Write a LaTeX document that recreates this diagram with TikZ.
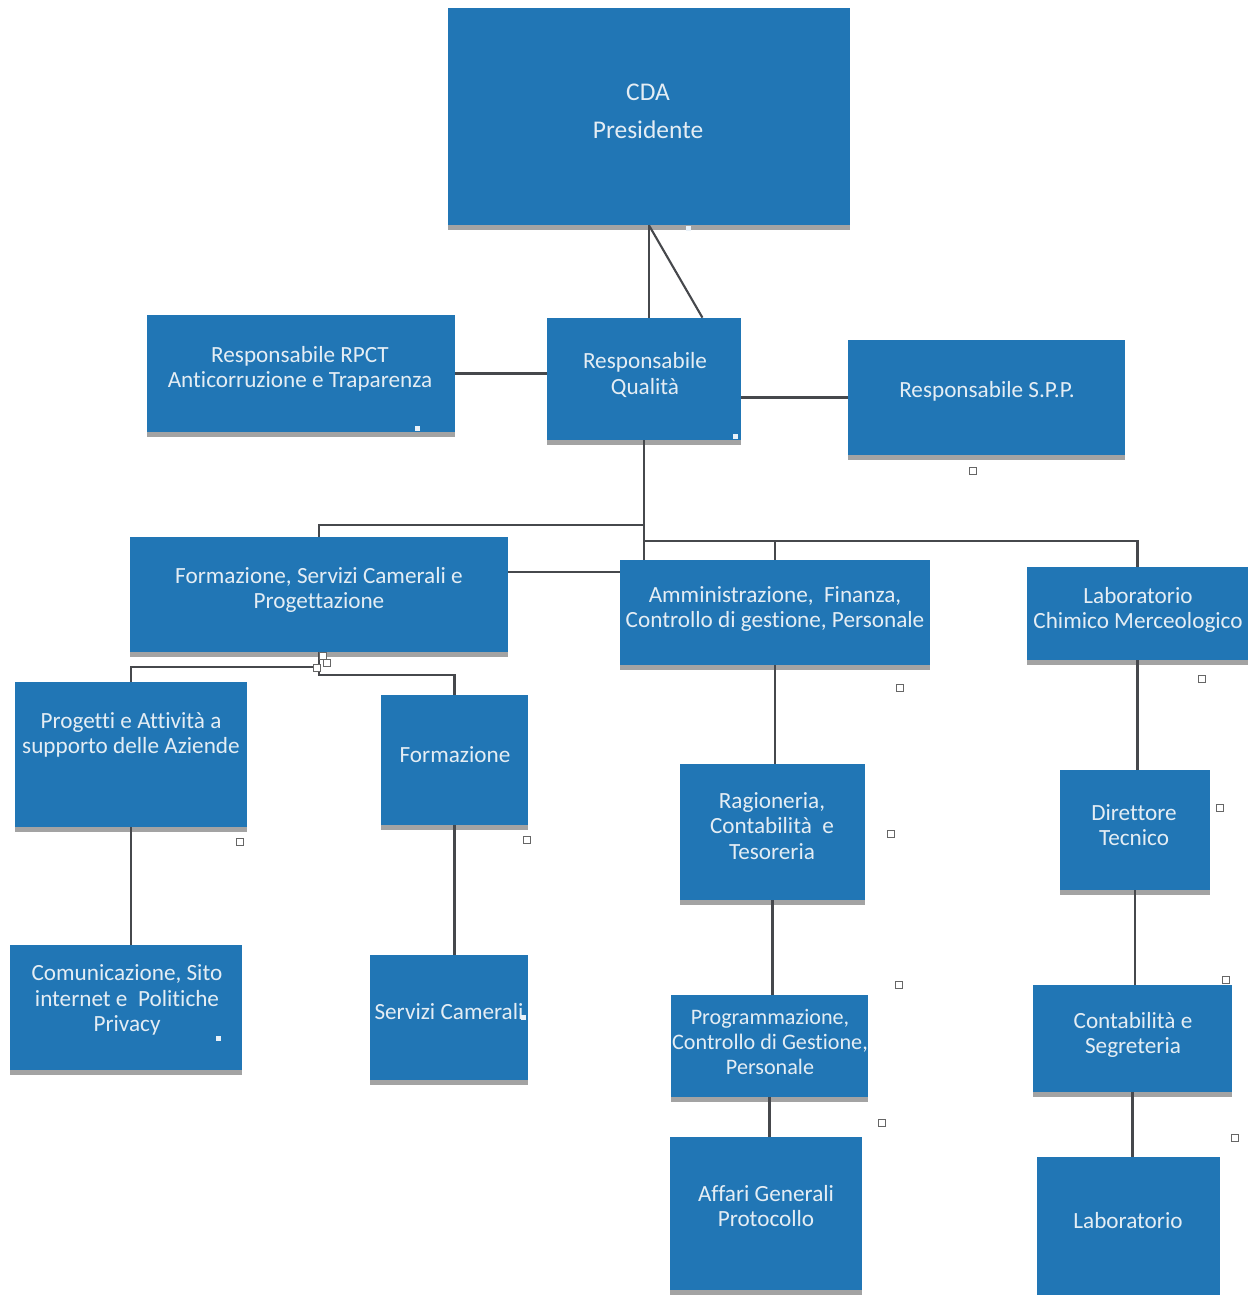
\documentclass[tikz,border=0pt]{standalone}
\usepackage{fontspec}
\setmainfont{Carlito}[Ligatures=NoCommon]
\usetikzlibrary{fit,calc,shadows}
\definecolor{boxblue}{RGB}{33,118,181}
\definecolor{boxtext}{RGB}{228,237,244}
\definecolor{linegray}{RGB}{70,72,76}
\begin{document}
\begin{tikzpicture}[x=0.2mm,y=-0.2mm,
  box/.style={fill=boxblue, draw=none, inner sep=0pt,
    drop shadow={shadow xshift=0mm, shadow yshift=-1mm, fill=black!45, opacity=0.8}},
  txt/.style={text=boxtext, align=center, inner sep=0pt,
    font=\fontsize{13.2pt}{14.3pt}\selectfont},
  smalltxt/.style={txt, font=\fontsize{12.6pt}{14.3pt}\selectfont},
  bigtxt/.style={txt, font=\fontsize{14.5pt}{17pt}\selectfont},
  conn/.style={draw=linegray, line width=1.2pt},
  handle/.style={draw=black!60, fill=white, line width=0.6pt},
  dot/.style={fill=white!90!boxblue, draw=none}]
\useasboundingbox (0,0) rectangle (1251,1295);
\fill[white] (0,0) rectangle (1251,1295);

% boxes
\node[box, fit={(448,8) (850,225)}] (cda) {};
\node[box, fit={(147,315) (455,432)}] (rpct) {};
\node[box, fit={(547,318) (741,440)}] (qual) {};
\node[box, fit={(848,340) (1125,455)}] (spp) {};
\node[box, fit={(130,537) (508,652)}] (form) {};
\node[box, fit={(620,560) (930,665)}] (amm) {};
\node[box, fit={(1027,567) (1248,660)}] (lab) {};
\node[box, fit={(15,682) (247,827)}] (prog) {};
\node[box, fit={(381,695) (528,825)}] (fsub) {};
\node[box, fit={(680,764) (865,900)}] (rag) {};
\node[box, fit={(1060,770) (1210,890)}] (dir) {};
\node[box, fit={(10,945) (242,1070)}] (com) {};
\node[box, fit={(370,955) (528,1080)}] (serv) {};
\node[box, fit={(671,995) (868,1097)}] (progr) {};
\node[box, fit={(1033,985) (1232,1092)}] (cont) {};
\node[box, fit={(670,1137) (862,1290)}] (aff) {};
\node[box, fit={(1037,1157) (1220,1295)}] (labo) {};

% texts
\node[bigtxt] (cda-t) at (648,111) {CDA\\[4.5pt]Presidente};
\node[txt] (rpct-t) at (300,369) {Responsabile RPCT\\Anticorruzione e Traparenza};
\node[txt] (qual-t) at (645,375) {Responsabile\\Qualità};
\node[txt] (spp-t) at (987,391) {Responsabile S.P.P.};
\node[txt] (form-t) at (319,590) {Formazione, Servizi Camerali e\\Progettazione};
\node[txt] (amm-t) at (775,609) {Amministrazione,\ \ Finanza,\\Controllo di gestione, Personale};
\node[txt] (lab-t) at (1138,610) {Laboratorio\\Chimico Merceologico};
\node[txt] (prog-t) at (131,735) {Progetti e Attività a\\supporto delle Aziende};
\node[txt] (fsub-t) at (455,755) {Formazione};
\node[txt] (rag-t) at (772,826) {Ragioneria,\\Contabilità\ \ e\\Tesoreria};
\node[txt] (dir-t) at (1134,825) {Direttore\\Tecnico};
\node[txt] (com-t) at (127,1000) {Comunicazione, Sito\\internet e\ \ Politiche\\Privacy};
\node[txt] (serv-t) at (449,1012) {Servizi Camerali};
\node[smalltxt] (progr-t) at (770,1042) {Programmazione,\\Controllo di Gestione,\\Personale};
\node[txt] (cont-t) at (1133,1035) {Contabilità e\\Segreteria};
\node[txt] (aff-t) at (766,1206) {Affari Generali\\Protocollo};
\node[txt] (labo-t) at (1128,1221) {Laboratorio};

% connectors
\draw[conn] (cda.south) -- (cda.south |- qual.north);
\draw[conn] (cda.south) -- ($(qual.north)!0.6!(qual.north east)$);
\draw[conn] (rpct.east) -- (rpct.east -| qual.west);
\draw[conn] (spp.west) -- (spp.west -| qual.east);
\draw[conn] (qual.south) -- (qual.south |- amm.north);
\coordinate (jA) at ($(qual.south)+(0,85)$);
\coordinate (jB) at ($(qual.south)+(0,101)$);
\draw[conn] (jA) -| (form.north);
\draw[conn] (jB) -| (amm.north);
\draw[conn] (jB) -| (lab.north);
\coordinate (fa) at ($(form.north east)+(0,35)$);
\draw[conn] (fa) -- (fa -| amm.west);
\coordinate (fj) at ($(form.south)+(0,15)$);
\draw[conn] (form.south) -- (fj) -| (prog.north);
\draw[conn] (fj) -- ++(0,8) -| (fsub.north);
\draw[conn] (prog.south) -- (prog.south |- com.north);
\draw[conn] (fsub.south) -- (fsub.south |- serv.north);
\draw[conn] (amm.south) -- (amm.south |- rag.north);
\draw[conn] (rag.south) -- (rag.south |- progr.north);
\draw[conn] (progr.south) -- (progr.south |- aff.north);
\draw[conn] (lab.south) -- (lab.south |- dir.north);
\draw[conn] (dir.south) -- (dir.south |- cont.north);
\draw[conn] (cont.south) -- (cont.south |- labo.north);

% small selection handles from the scan
\foreach \x/\y in {973/471,900/688,1202/679,240/842,527/840,891/834,1220/808,899/985,1226/980,882/1123,1235/1138,323/656,327/663,317/668}
  \draw[handle] (\x-3.5,\y-3.5) rectangle ++(7,7);
\foreach \x/\y in {688/228,417/428,735/436,218/1038,523/1017}
  \fill[dot] (\x-2.5,\y-2.5) rectangle ++(5,5);
\end{tikzpicture}
\end{document}
